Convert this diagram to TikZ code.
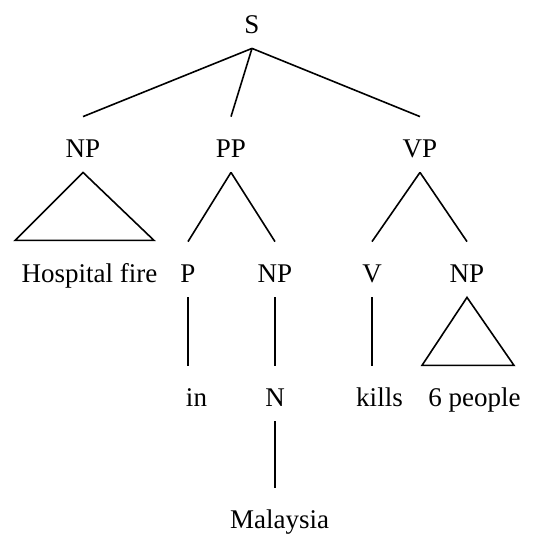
\documentclass[tikz,border=0pt]{standalone}
\usepackage{fontspec}
\setmainfont{Liberation Serif}
\tikzset{lab/.style={anchor=base, inner sep=0pt, text height=20pt, text depth=7.5pt,
  font=\fontsize{13.5}{16}\selectfont}}

\begin{document}
\begin{tikzpicture}[x=0.5pt,y=-0.5pt]
\useasboundingbox (0,0) rectangle (547,536);
% places labels
\node[lab] (s) at (252,33) {S};
\node[lab] (np1) at (83,157) {NP};
\node[lab] (pp) at (231,157) {PP};
\node[lab] (vp) at (420,157) {VP};
\node[lab] (hf) at (89.5,282) {Hospital fire};
\node[lab] (p) at (188,282) {P};
\node[lab] (np2) at (275,282) {NP};
\node[lab] (v) at (372,282) {V};
\node[lab] (np3) at (467,282) {NP};
\node[lab] (inw) at (196.5,406) {in};
\node[lab] (n) at (275,406) {N};
\node[lab] (kills) at (379.5,406) {kills};
\node[lab] (ppl) at (474.5,406) {6 people};
\node[lab] (mal) at (279.5,528) {Malaysia};
\begin{scope}[line width=0.8pt]
% draws branches
\draw (s.south) -- (np1.north);
\draw (s.south) -- (pp.north);
\draw (s.south) -- (vp.north);
\draw (pp.south) -- (p.north);
\draw (pp.south) -- (np2.north);
\draw (vp.south) -- (v.north);
\draw (vp.south) -- (np3.north);
\draw (p.south) -- (p.south |- inw.north);
\draw (np2.south) -- (n.north);
\draw (v.south) -- (v.south |- kills.north);
\draw (n.south) -- (n.south |- mal.north);
% draws triangles
\draw (np1.south) -- ++(-68,68) -- ++(139,0) -- cycle;
\draw (np3.south) -- ++(-45,68) -- ++(92,0) -- cycle;
\end{scope}
\end{tikzpicture}
\end{document}
